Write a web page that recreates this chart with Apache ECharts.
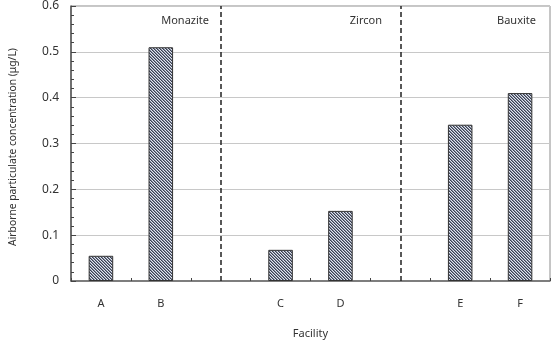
<!DOCTYPE html>
<html>
<head>
<meta charset="utf-8">
<style>
html,body{margin:0;padding:0;background:#fff;}
#chart{width:552px;height:344px;}
</style>
<script src="https://cdn.jsdelivr.net/npm/echarts@6/dist/echarts.min.js"></script>
</head>
<body>
<div id="chart"></div>
<script>
// Categories (blank slots separate the mineral groups)
const categories = ['A', 'B', ' ', 'C', 'D', '  ', 'E', 'F'];
// Airborne particulate concentration (µg/L)
const concentrations = [0.055, 0.51, null, 0.068, 0.153, null, 0.341, 0.41];
// Separator slots (dashed lines)
const separators = [' ', '  '];
// Group labels
const groupNames = ['Monazite', 'Zircon', 'Bauxite'];
const yTicks = [0, 0.1, 0.2, 0.3, 0.4, 0.5, 0.6];

// hatch pattern
function makeHatch() {
  const s = 3;
  const c = document.createElement('canvas');
  c.width = s; c.height = s;
  const ctx = c.getContext('2d');
  const img = ctx.createImageData(s, s);
  const cols = [[58, 64, 80], [130, 138, 158], [226, 230, 240]];
  for (let y = 0; y < s; y++) {
    for (let x = 0; x < s; x++) {
      const k = ((x - y + s * 4) % s);
      const col = cols[k];
      const i = (y * s + x) * 4;
      img.data[i] = col[0]; img.data[i + 1] = col[1]; img.data[i + 2] = col[2]; img.data[i + 3] = 255;
    }
  }
  ctx.putImageData(img, 0, 0);
  return c;
}

const font = '"Noto Sans", "Open Sans", sans-serif';
const chart = echarts.init(document.getElementById('chart'), null, {renderer: 'canvas'});

const option = {
  animation: false,
  grid: {
    left: 67, right: 2, top: 6, bottom: 63,
    show: true, borderColor: '#8c8c8c', borderWidth: 1, backgroundColor: 'transparent'
  },
  xAxis: {
    type: 'category',
    data: categories,
    name: 'Facility',
    nameLocation: 'middle',
    nameGap: 47,
    nameTextStyle: {fontFamily: font, fontSize: 11, color: '#333'},
    axisLine: {lineStyle: {color: '#666', width: 1.5}},
    axisTick: {show: true, inside: true, length: 3, lineStyle: {color: '#444'}},
    axisLabel: {fontFamily: font, fontSize: 11, color: '#333', margin: 17},
    splitLine: {show: false}
  },
  yAxis: {
    type: 'value',
    min: yTicks[0], max: yTicks[yTicks.length - 1], interval: 0.1,
    name: 'Airborne particulate concentration (μg/L)',
    nameLocation: 'middle',
    nameGap: 53,
    nameRotate: 90,
    nameTextStyle: {fontFamily: font, fontSize: 10.3, color: '#333', padding: [0, 7, 0, 0]},
    axisLine: {show: true, lineStyle: {color: '#555', width: 1.5}},
    axisTick: {show: true, inside: true, length: 5, lineStyle: {color: '#444'}},
    minorTick: {show: true, splitNumber: 5, length: 3, lineStyle: {color: '#444'}},
    axisLabel: {
      fontFamily: font, fontSize: 12, color: '#333', margin: 12,
      padding: [6, 0, 0, 0],
      formatter: v => (v === 0 ? '0' : v.toFixed(1))
    },
    splitLine: {show: true, lineStyle: {color: '#c8c8c8', width: 1}}
  },
  series: [{
    type: 'bar',
    data: concentrations,
    barWidth: '41%',
    itemStyle: {
      color: {image: makeHatch(), repeat: 'repeat'},
      borderColor: '#333',
      borderWidth: 1
    },
    markLine: {
      silent: true,
      symbol: ['none', 'none'],
      label: {show: false},
      lineStyle: {color: '#222', type: [5, 3], width: 1.5},
      data: separators.map(s => ({xAxis: s}))
    }
  }],
  graphic: [
    {type: 'text', right: 552 - 209, top: 15, style: {text: groupNames[0], font: '11px ' + font, fill: '#333'}},
    {type: 'text', right: 552 - 382, top: 15, style: {text: groupNames[1], font: '11px ' + font, fill: '#333'}},
    {type: 'text', right: 552 - 536, top: 15, style: {text: groupNames[2], font: '11px ' + font, fill: '#333'}}
  ]
};
chart.setOption(option);
</script>
</body>
</html>
